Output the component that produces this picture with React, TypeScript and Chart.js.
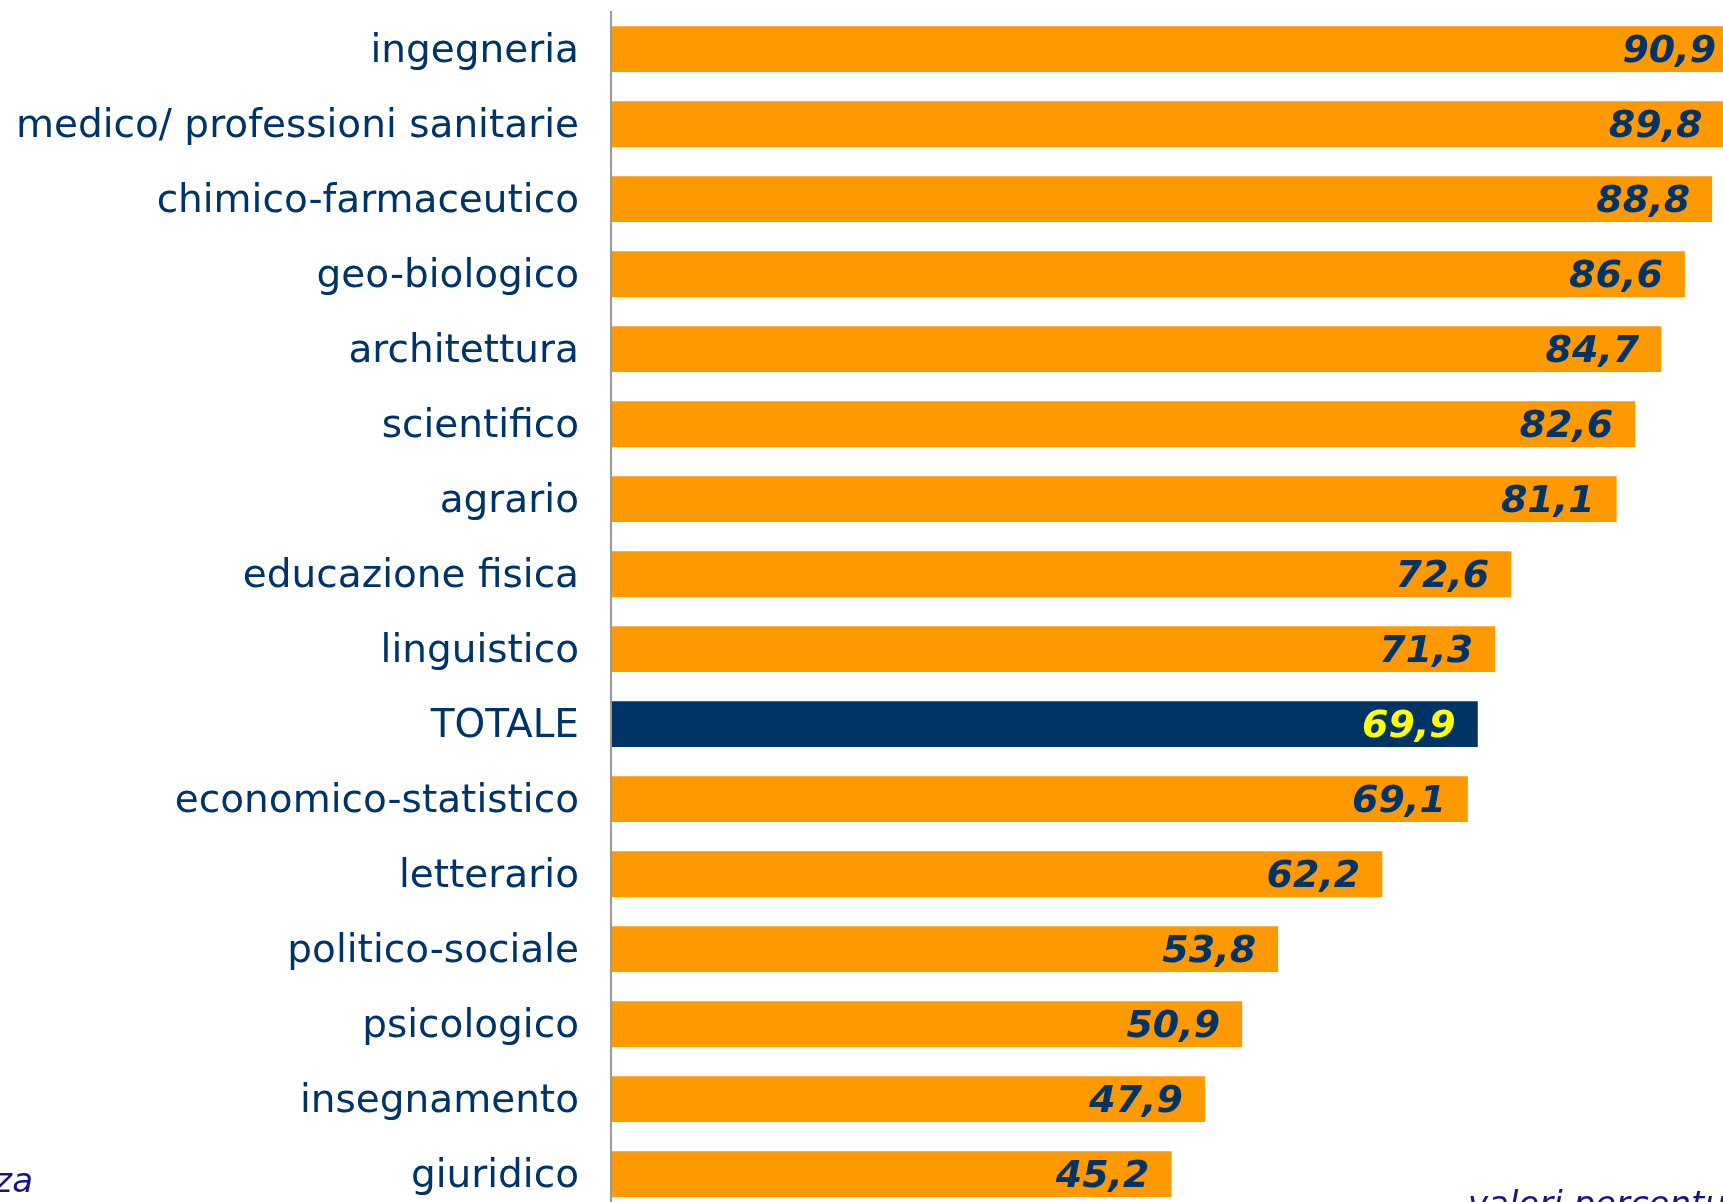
import React, { useEffect, useRef } from "react";
import { Chart, registerables } from "chart.js";

Chart.register(...registerables);

const categories = [
  "ingegneria",
  "medico/ professioni sanitarie",
  "chimico-farmaceutico",
  "geo-biologico",
  "architettura",
  "scientifico",
  "agrario",
  "educazione fisica",
  "linguistico",
  "TOTALE",
  "economico-statistico",
  "letterario",
  "politico-sociale",
  "psicologico",
  "insegnamento",
  "giuridico",
];

const values = [90.9, 89.8, 88.8, 86.6, 84.7, 82.6, 81.1, 72.6, 71.3, 69.9, 69.1, 62.2, 53.8, 50.9, 47.9, 45.2];

const totalLabel = "TOTALE";
const footLeft = "za";
const footRight = "valori percentuali";

const ORANGE = "#FF9900";
const NAVY = "#003366";
const YELLOW = "#FFFF00";
const NOTE = "#1a1480";

export default function App() {
  const ref = useRef<HTMLCanvasElement | null>(null);

  useEffect(() => {
    const canvas = ref.current;
    if (!canvas) return;

    const labelPlugin = {
      id: "valueLabels",
      afterDraw(chart: any) {
        const ctx = chart.ctx;
        const meta = chart.getDatasetMeta(0);
        ctx.save();
        ctx.font = "italic bold 38px 'DejaVu Sans', Verdana, sans-serif";
        ctx.textAlign = "right";
        ctx.textBaseline = "middle";
        meta.data.forEach((bar: any, i: number) => {
          const txt = values[i].toFixed(1).replace(".", ",");
          ctx.fillStyle = categories[i] === totalLabel ? YELLOW : NAVY;
          ctx.fillText(txt, bar.x - 22, bar.y + 3);
        });
        ctx.font = "italic 34px 'DejaVu Sans', Verdana, sans-serif";
        ctx.fillStyle = NOTE;
        ctx.textBaseline = "alphabetic";
        ctx.textAlign = "right";
        ctx.fillText(footLeft, 33, 1192);
        ctx.textAlign = "left";
        ctx.fillText(footRight, 1468, 1215);
        ctx.restore();
      },
    };

    const chart = new Chart(canvas, {
      type: "bar",
      data: {
        labels: categories,
        datasets: [
          {
            data: values,
            backgroundColor: categories.map((c) => (c === totalLabel ? NAVY : ORANGE)),
            borderWidth: 0,
            categoryPercentage: 1,
            barPercentage: 0.61,
          },
        ],
      },
      options: {
        indexAxis: "y",
        responsive: false,
        animation: false,
        devicePixelRatio: 1,
        layout: { padding: { top: 11.5, bottom: 0.5, left: 0, right: 0 } },
        plugins: {
          legend: { display: false },
          tooltip: { enabled: false },
        },
        scales: {
          x: {
            display: false,
            min: 0,
            max: 1149 / 12.4,
          },
          y: {
            grid: { display: false, drawTicks: false },
            border: { display: true, color: "#999999", width: 2, z: 1 },
            ticks: {
              color: NAVY,
              padding: 32,
              labelOffset: 3,
              font: { family: "'DejaVu Sans', Verdana, sans-serif", size: 39 },
            },
            afterFit: (scale: any) => {
              scale.width = 611;
              scale.paddingTop = 0;
              scale.paddingBottom = 0;
            },
          },
        },
      },
      plugins: [labelPlugin],
    });

    return () => chart.destroy();
  }, []);

  return (
    <div
      style={{
        position: "absolute",
        top: 0,
        left: 0,
        width: 1723,
        height: 1202,
        overflow: "hidden",
        background: "#ffffff",
      }}
    >
      <canvas ref={ref} width={1760} height={1212} style={{ display: "block", width: 1760, height: 1212 }} />
    </div>
  );
}
